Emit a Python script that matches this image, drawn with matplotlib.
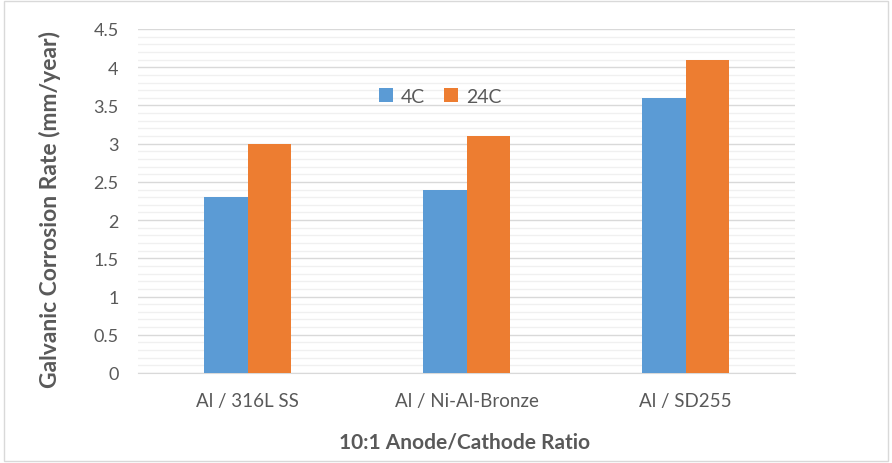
import matplotlib
matplotlib.use("Agg")
import matplotlib.pyplot as plt
import numpy as np
from matplotlib.patches import Rectangle

categories = ["Al / 316L SS", "Al / Ni-Al-Bronze", "Al / SD255"]
series_names = ["4C", "24C"]
vals_4c = [2.3, 2.4, 3.6]
vals_24c = [3.0, 3.1, 4.1]
yticks = [0, 0.5, 1, 1.5, 2, 2.5, 3, 3.5, 4, 4.5]
ytick_labels = ["0", "0.5", "1", "1.5", "2", "2.5", "3", "3.5", "4", "4.5"]

plt.rcParams['font.family'] = ['Lato', 'DejaVu Sans']

fig = plt.figure(figsize=(8.92, 4.64), dpi=100)
fig.patches.append(Rectangle((0.004, 0.004), 0.991, 0.991, transform=fig.transFigure,
                             fill=False, edgecolor='#d9d9d9', linewidth=1))
W, H = 892, 464
left, right, top, bottom = 138, 795, 30, 374
ax = fig.add_axes([left / W, 1 - bottom / H, (right - left) / W, (bottom - top) / H])

x = np.arange(len(categories))
bw = 0.2
c_blue = '#5b9bd5'
c_orange = '#ed7d31'
ax.bar(x - bw / 2, vals_4c, bw, color=c_blue, label=series_names[0], zorder=3)
ax.bar(x + bw / 2, vals_24c, bw, color=c_orange, label=series_names[1], zorder=3)

ax.set_xlim(-0.5, len(categories) - 0.5)
ax.set_ylim(0, 4.5)
ax.set_yticks(yticks)
ax.set_yticklabels(ytick_labels)
ax.set_yticks(np.arange(0, 4.51, 0.1), minor=True)
ax.grid(axis='y', which='major', color='#d9d9d9', linewidth=1, zorder=0)
ax.grid(axis='y', which='minor', color='#f0f0f0', linewidth=1, zorder=0)
ax.set_xticks(x)
ax.set_xticklabels(categories)
ax.tick_params(axis='both', which='both', length=0, labelcolor='#595959')
ax.tick_params(axis='x', pad=14, labelsize=13.5)
ax.tick_params(axis='y', pad=14, labelsize=13)
for s in ['top', 'right', 'left']:
    ax.spines[s].set_visible(False)
ax.spines['bottom'].set_color('#d9d9d9')

ax.set_ylabel("Galvanic Corrosion Rate (mm/year)", fontsize=16.5, fontweight='bold',
              color='#595959')
ax.yaxis.set_label_coords((61 - left) / (right - left), 0.5 - 8 / 344)
ax.set_xlabel("10:1 Anode/Cathode Ratio", fontsize=15, fontweight='bold',
              color='#595959')
ax.xaxis.set_label_coords(0.5 - 1.5 / (right - left), -(433 - bottom) / (bottom - top))

ax.legend(loc='center', bbox_to_anchor=(0.46, 0.805), ncol=2, frameon=False,
          fontsize=14, labelcolor='#595959', handlelength=0.7, handleheight=0.7,
          columnspacing=1.0, handletextpad=0.4)

fig.savefig("out.png", dpi=100)
